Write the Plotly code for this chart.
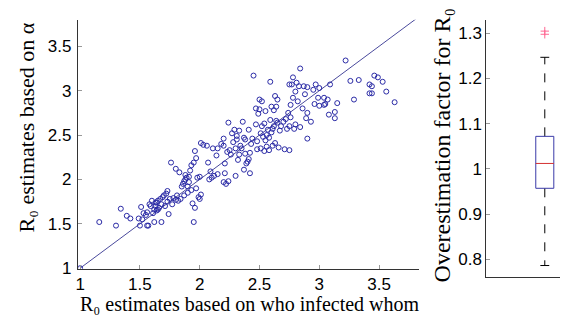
import plotly.graph_objects as go

# R0 estimates based on who infected whom (x) vs based on alpha (y)
x_who = [1.00, 1.16, 1.30, 1.34, 1.39, 1.42, 1.49, 1.50, 1.51, 1.52, 1.55, 1.56, 1.56, 1.57,
         1.58, 1.60, 1.61, 1.62, 1.62, 1.63, 1.63, 1.64, 1.65, 1.65, 1.66, 1.68, 1.68, 1.69,
         1.70, 1.71, 1.73, 1.73, 1.74, 1.75, 1.76, 1.77, 1.80, 1.80, 1.81, 1.82, 1.83, 1.84,
         1.86, 1.87, 1.87, 1.88, 1.89, 1.90, 1.90, 1.91, 1.92, 1.93, 1.93, 1.94, 1.95, 1.95,
         1.96, 1.96, 1.97, 1.97, 1.98, 1.99, 2.00, 2.00, 2.01, 2.01,
         1.53, 1.59, 1.64, 1.67, 1.72, 1.78, 1.85, 1.88, 1.91,
         2.03, 2.06, 2.07, 2.08, 2.09, 2.10, 2.11, 2.12, 2.14, 2.15, 2.15, 2.18, 2.20, 2.20,
         2.20, 2.21, 2.21, 2.22, 2.23, 2.24, 2.24, 2.25, 2.26, 2.27, 2.28, 2.29, 2.30, 2.30,
         2.31, 2.31, 2.32, 2.33, 2.33, 2.34, 2.35, 2.36, 2.37, 2.37, 2.38, 2.38, 2.39, 2.40,
         2.41, 2.41, 2.42, 2.42, 2.43, 2.44, 2.45, 2.47, 2.47, 2.48, 2.48, 2.49, 2.50, 2.50,
         2.51, 2.51, 2.52, 2.52, 2.53, 2.54, 2.54, 2.55, 2.55, 2.56, 2.56, 2.57, 2.58, 2.58,
         2.59, 2.59, 2.60, 2.60, 2.61, 2.61, 2.62, 2.62, 2.63, 2.63, 2.64, 2.64, 2.65, 2.65,
         2.66, 2.67, 2.68, 2.70, 2.71, 2.72, 2.73, 2.74, 2.75, 2.75, 2.75, 2.76, 2.76, 2.77,
         2.78, 2.78, 2.79, 2.80, 2.80, 2.81, 2.82, 2.83,
         2.84, 2.84, 2.86, 2.87, 2.88, 2.89, 2.90, 2.90, 2.90, 2.93, 2.95, 2.96, 2.97, 2.99,
         3.00, 3.00, 3.04, 3.04, 3.05, 3.07, 3.08, 3.09, 3.13, 3.13, 3.15, 3.22, 3.26, 3.29,
         3.33, 3.42, 3.42, 3.44, 3.44, 3.46, 3.49, 3.53, 3.56, 3.63]
y_alpha = [1.00, 1.52, 1.48, 1.67, 1.59, 1.56, 1.56, 1.48, 1.69, 1.55, 1.60, 1.63, 1.48, 1.48,
           1.72, 1.76, 1.62, 1.66, 1.52, 1.74, 1.70, 1.65, 1.66, 1.76, 1.68, 1.52, 1.72, 1.80,
           1.82, 1.70, 1.87, 1.75, 1.61, 1.78, 2.19, 1.72, 1.77, 2.12, 1.82, 1.76, 2.08, 1.78,
           1.95, 1.82, 1.98, 2.05, 2.02, 1.85, 1.92, 2.03, 2.10, 1.88, 2.16, 1.73, 2.19, 1.52,
           1.68, 2.32, 2.24, 1.90, 2.02, 1.80, 1.78, 2.03, 2.41, 1.83,
           1.62, 1.70, 1.74, 1.78, 1.84, 1.79, 1.92, 2.00, 1.97,
           2.39, 2.38, 2.19, 2.00, 2.09, 2.02, 2.35, 2.04, 2.27, 2.35, 2.06, 2.40, 2.46, 2.38,
           1.97, 2.07, 2.18, 1.95, 2.31, 2.64, 1.98, 2.33, 2.28, 2.52, 2.42, 2.56, 2.35, 2.04,
           2.49, 2.45, 2.22, 2.55, 2.28, 2.38, 2.35, 2.65, 2.11, 2.47, 2.45, 2.29, 2.18, 2.20,
           2.23, 2.56, 2.07, 2.30, 2.40, 2.46, 3.17, 2.62, 2.80, 2.34, 2.43, 2.74, 2.90, 2.79,
           2.52, 2.35, 2.60, 2.88, 2.48, 2.63, 2.32, 2.44, 2.77, 2.50, 2.37, 2.56, 2.47, 2.33,
           2.67, 3.10, 2.82, 2.53, 2.57, 2.38, 2.78, 2.60, 2.41, 2.94, 2.66, 2.82, 2.90, 2.64,
           2.36, 2.55, 2.60, 2.65, 2.34, 2.68, 2.57, 2.75, 2.33, 2.60, 3.07, 2.84, 2.70, 3.07,
           2.92, 3.15, 2.57, 2.99, 2.62, 3.09, 2.88, 3.05,
           2.59, 3.25, 2.80, 3.05, 2.96, 2.69, 2.75, 3.04, 2.46, 2.65, 3.01, 2.85, 3.07, 2.92,
           2.83, 3.03, 2.92, 2.84, 2.85, 2.90, 2.73, 3.07, 2.76, 2.69, 2.86, 3.34, 3.11, 2.90,
           3.12, 3.07, 2.97, 3.05, 2.97, 3.17, 3.15, 3.10, 2.99, 2.87]

# Overestimation factor box statistics
box_q1, box_median, box_q3 = 0.957, 1.012, 1.072
whisker_low, whisker_high = 0.786, 1.247
outliers = [1.298, 1.305]
box_pos = 1.0

x_ticks = [1, 1.5, 2, 2.5, 3, 3.5]
y_ticks = [1, 1.5, 2, 2.5, 3, 3.5]
y2_ticks = [0.8, 0.9, 1.0, 1.1, 1.2, 1.3]
y2_ticklabels = ["0.8", "0.9", "1", "1.1", "1.2", "1.3"]

BLUE = "#2b2ba6"
W, H = 568, 316
fig = go.Figure()

fig.add_trace(go.Scatter(x=[1, 3.9], y=[1, 3.9], mode="lines",
                         line=dict(color="#4a4a9c", width=1), xaxis="x", yaxis="y",
                         hoverinfo="skip"))
fig.add_trace(go.Scatter(x=x_who, y=y_alpha, mode="markers",
                         marker=dict(symbol="circle-open", size=5, color=BLUE,
                                     line=dict(width=1, color=BLUE)),
                         xaxis="x", yaxis="y"))

# Box plot pieces
hw, cw = 0.077, 0.038
fig.add_trace(go.Scatter(x=[box_pos, box_pos, None, box_pos, box_pos],
                         y=[box_q3, whisker_high, None, box_q1, whisker_low],
                         mode="lines", line=dict(color="black", width=1, dash="dash"),
                         xaxis="x2", yaxis="y2"))
fig.add_trace(go.Scatter(x=[box_pos - cw, box_pos + cw, None, box_pos - cw, box_pos + cw],
                         y=[whisker_high, whisker_high, None, whisker_low, whisker_low],
                         mode="lines", line=dict(color="black", width=1),
                         xaxis="x2", yaxis="y2"))
fig.add_trace(go.Scatter(x=[box_pos - hw, box_pos + hw, box_pos + hw, box_pos - hw, box_pos - hw],
                         y=[box_q1, box_q1, box_q3, box_q3, box_q1],
                         mode="lines", line=dict(color="#3a3aa8", width=1),
                         xaxis="x2", yaxis="y2"))
fig.add_trace(go.Scatter(x=[box_pos - hw, box_pos + hw], y=[box_median, box_median],
                         mode="lines", line=dict(color="#d43030", width=1),
                         xaxis="x2", yaxis="y2"))
fig.add_trace(go.Scatter(x=[box_pos] * len(outliers), y=outliers, mode="markers",
                         marker=dict(symbol="cross-thin-open", size=6,
                                     line=dict(color="#d43030", width=1)),
                         xaxis="x2", yaxis="y2"))

tickfont = dict(family="Liberation Sans, Arial, sans-serif", size=17, color="black")
axis_common = dict(showline=True, linecolor="#333333", linewidth=1, mirror=False,
                   ticks="inside", ticklen=4, tickcolor="#999999", showgrid=False,
                   zeroline=False, tickfont=tickfont)

fig.update_layout(
    width=W, height=H, margin=dict(l=0, r=0, t=0, b=0),
    paper_bgcolor="white", plot_bgcolor="white", showlegend=False,
    xaxis=dict(domain=[0.1197, 0.7218], range=[0.98, 3.83], tickvals=x_ticks,
               ticktext=[f"{v:g}" for v in x_ticks], anchor="y", ticklabelstandoff=0,
               **axis_common),
    yaxis=dict(domain=[0.151, 0.962], range=[0.995, 3.80], tickvals=y_ticks,
               ticktext=[f"{v:g}" for v in y_ticks], anchor="x", ticklabelstandoff=2,
               **axis_common),
    xaxis2=dict(domain=[0.8415, 1.0], range=[0.5, 1.2667], showticklabels=False,
                anchor="y2", showline=True, linecolor="#333333", linewidth=1,
                ticks="", showgrid=False, zeroline=False),
    yaxis2=dict(domain=[0.1244, 0.960], range=[0.761, 1.329], tickvals=y2_ticks,
                ticktext=y2_ticklabels, anchor="x2", **axis_common),
)

serif = "Liberation Serif, DejaVu Serif, Times New Roman, serif"
titles = [
    ("R₀ estimates based on who infected whom", 241, 305, 0, 20),
    ("R₀ estimates based on α", 17, 123, -90, 22),
    ("Overestimation factor for R₀", 434, 141, -90, 24),
]
for text, px, py, ang, size in titles:
    fig.add_annotation(text=text, x=px / W, y=1 - py / H, xref="paper", yref="paper",
                       xanchor="center", yanchor="middle", textangle=ang,
                       showarrow=False, font=dict(family=serif, size=size, color="black"))

fig.write_html("out.html")
